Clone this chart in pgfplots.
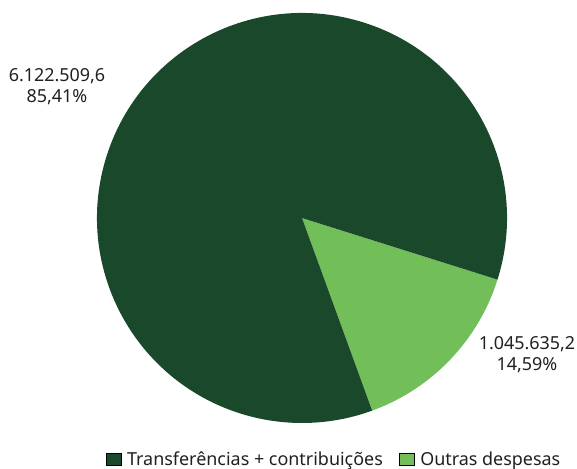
\documentclass[border=0pt]{standalone}
\usepackage{fontspec}
\setmainfont{Noto Sans}
\usepackage{pgfplots}
\usepackage{pgfplotstable}
\pgfplotsset{compat=1.18}
\definecolor{darkg}{HTML}{19482A}
\definecolor{lightg}{HTML}{72BF5A}
\definecolor{txt}{HTML}{231F20}
\pgfplotstableread{
label value
Transf 6122.5096
Outras 1045.6352
}\piedata
\pgfplotstablegetelem{0}{value}\of\piedata \let\va\pgfplotsretval
\pgfplotstablegetelem{1}{value}\of\piedata \let\vb\pgfplotsretval
\pgfmathsetmacro\fracb{\vb/(\va+\vb)}
\pgfmathsetmacro\angb{360*\fracb}
\pgfmathsetmacro\startang{-70}
\pgfmathsetmacro\midang{\startang+\angb}
\pgfmathsetmacro\endang{\startang+360}
\begin{document}
\begin{tikzpicture}
\path[use as bounding box] (0,0) rectangle (577bp,469bp);
\begin{axis}[at={(0,0)},anchor=south west, width=577bp,height=469bp,scale only axis,
  xmin=0,xmax=577,ymin=0,ymax=469, hide axis, clip=false,
  legend columns=2,
  legend style={at={(axis cs:333,10)},anchor=center,draw=none,fill=none,
    font=\fontsize{18}{20}\selectfont\color{txt},
    /tikz/every even column/.append style={column sep=16bp},
    inner sep=0pt, nodes={inner sep=0pt, anchor=base west, text depth=0pt}, 
    /tikz/every odd column/.append style={column sep=6bp}},
  legend image code/.code={\fill[#1] (0bp,0.5bp) rectangle (15bp,13bp);},
]
\addlegendimage{fill=darkg}
\addlegendentry{Transferências + contribuições}
\addlegendimage{fill=lightg}
\addlegendentry{Outras despesas}
\fill[lightg] (axis cs:302,251) -- ++(\startang:205bp) arc[start angle=\startang, end angle=\midang, radius=205bp] -- cycle;
\fill[darkg] (axis cs:302,251) -- ++(\midang:205bp) arc[start angle=\midang, end angle=\endang, radius=205bp] -- cycle;
\node[align=center, text=txt, font=\fontsize{18}{21}\selectfont, inner sep=0pt] at (axis cs:57,382) {6.122.509,6\\85,41\%};
\node[align=center, text=txt, font=\fontsize{18}{21}\selectfont, inner sep=0pt] at (axis cs:527,114) {1.045.635,2\\14,59\%};
\end{axis}
\end{tikzpicture}
\end{document}
